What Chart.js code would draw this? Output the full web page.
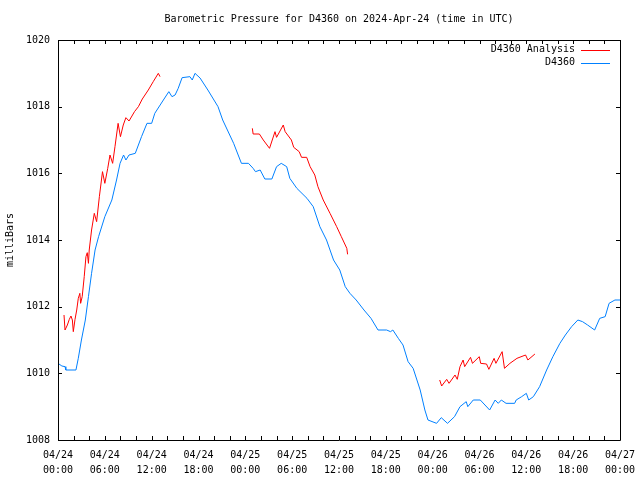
<!DOCTYPE html>
<html>
<head>
<meta charset="utf-8">
<script src="https://cdn.jsdelivr.net/npm/chart.js@4.4.1/dist/chart.umd.min.js"></script>
<style>
  body { margin: 0; background: #fff; }
  canvas { display: block; }
</style>
</head>
<body>
<canvas id="pressureChart" width="640" height="480"></canvas>
<script>
// hours since 2024-04-24 00:00 UTC
var stationHours = [0, 0.5, 0.9, 1.0, 2.3, 2.6, 3.0, 3.5, 3.9, 4.3, 4.75, 5.2, 6.0, 6.9, 7.5, 7.95, 8.4, 8.7, 9.1, 9.9,
  10.7, 11.4, 12.0, 12.4, 13.5, 14.2, 14.6, 15.0, 15.4, 15.9, 16.9, 17.2, 17.55, 18.2, 19.2, 20.5, 21.1, 21.4, 22.5, 23.5,
  24.4, 25.0, 25.3, 25.9, 26.5, 27.4, 28.0, 28.6, 29.3, 29.7, 30.6, 31.9, 32.7, 33.55, 34.4, 35.3, 36.1, 36.8, 37.4, 38.2,
  39.2, 40.1, 41.0, 42.1, 42.6, 42.9, 43.6, 44.2, 44.85, 45.5, 46.4, 47.0, 47.4, 48.5, 49.1, 49.9, 50.8, 51.5, 52.3, 52.5,
  53.2, 54.1, 55.3, 56.0, 56.4, 56.8, 57.4, 58.5, 58.7, 59.4, 60.0, 60.3, 60.9, 61.7, 62.6, 63.4, 64.3, 65.0, 65.8, 66.6,
  67.2, 67.85, 68.75, 69.4, 70.1, 70.6, 71.35, 72];
var stationValues = [1010.3, 1010.22, 1010.2, 1010.1, 1010.1, 1010.45, 1011.0, 1011.6, 1012.3, 1013.0, 1013.7, 1014.1, 1014.7, 1015.2, 1015.8, 1016.3, 1016.55, 1016.4, 1016.55, 1016.6,
  1017.1, 1017.5, 1017.5, 1017.8, 1018.2, 1018.45, 1018.3, 1018.35, 1018.55, 1018.87, 1018.9, 1018.8, 1019.0, 1018.86, 1018.5, 1018.0, 1017.6, 1017.45, 1016.9, 1016.3,
  1016.3, 1016.15, 1016.05, 1016.1, 1015.83, 1015.83, 1016.2, 1016.3, 1016.2, 1015.85, 1015.55, 1015.25, 1015.0, 1014.4, 1014.0, 1013.4, 1013.1, 1012.6, 1012.4, 1012.2,
  1011.9, 1011.65, 1011.3, 1011.3, 1011.25, 1011.3, 1011.05, 1010.85, 1010.35, 1010.15, 1009.5, 1008.9, 1008.6, 1008.5, 1008.67, 1008.5, 1008.7, 1009.0, 1009.15, 1009.0,
  1009.2, 1009.2, 1008.9, 1009.2, 1009.1, 1009.2, 1009.1, 1009.1, 1009.2, 1009.3, 1009.4, 1009.2, 1009.3, 1009.6, 1010.1, 1010.5, 1010.9, 1011.15, 1011.4, 1011.6,
  1011.55, 1011.45, 1011.3, 1011.65, 1011.7, 1012.1, 1012.2, 1012.2];

// analysis series, null = gap between runs
var analysisHours = [0.77, 0.9, 1.2, 1.45, 1.66, 1.84, 1.96, 2.18, 2.4, 2.6, 2.8, 2.9, 3.1, 3.36, 3.58, 3.75, 3.9, 4.0, 4.3, 4.65,
  4.95, 5.3, 5.7, 6.0, 6.37, 6.66, 7.0, 7.3, 7.7, 8.0, 8.36, 8.7, 9.1, 9.8, 10.3, 10.8, 11.57, 12.2, 12.85, 13.07,
  19,
  24.9, 25.0, 25.8, 26.3, 27.1, 27.8, 28.0, 28.86, 29.1, 29.9, 30.2, 30.9, 31.2, 31.86, 32.3, 32.9, 33.3, 33.98, 34.85, 35.7,
  36.3, 37.0, 37.1,
  43,
  48.9, 49.15, 49.8, 50.1, 50.86, 51.15, 51.5, 51.9, 52.1, 52.85, 53.1, 53.97, 54.15, 54.9, 55.2, 55.87, 56.1, 56.9, 57.2, 57.9,
  58.8, 59.9, 60.2, 61.1];
var analysisValues = [1011.75, 1011.3, 1011.45, 1011.62, 1011.72, 1011.6, 1011.25, 1011.62, 1011.9, 1012.25, 1012.4, 1012.1, 1012.3, 1012.9, 1013.5, 1013.62, 1013.3, 1013.7, 1014.3, 1014.8,
  1014.55, 1015.3, 1016.05, 1015.7, 1016.15, 1016.55, 1016.3, 1016.8, 1017.5, 1017.1, 1017.45, 1017.67, 1017.57, 1017.85, 1018.0, 1018.23, 1018.5, 1018.75, 1019.0, 1018.9,
  null,
  1017.35, 1017.18, 1017.18, 1017.0, 1016.75, 1017.25, 1017.08, 1017.45, 1017.25, 1017.0, 1016.78, 1016.65, 1016.48, 1016.48, 1016.2, 1015.95, 1015.6, 1015.2, 1014.8, 1014.4,
  1014.1, 1013.75, 1013.57,
  null,
  1009.8, 1009.62, 1009.82, 1009.7, 1009.95, 1009.82, 1010.2, 1010.4, 1010.2, 1010.48, 1010.3, 1010.5, 1010.3, 1010.28, 1010.12, 1010.45, 1010.3, 1010.65, 1010.15, 1010.3,
  1010.45, 1010.55, 1010.4, 1010.58];

var seriesNames = ['D4360 Analysis', 'D4360'];
var seriesColors = ['#ff0000', '#0080ff'];
var chartTitle = 'Barometric Pressure for D4360 on 2024-Apr-24 (time in UTC)';

function toPoints(hours, vals) {
  return hours.map(function(h, i) { return { x: h, y: vals[i] }; });
}

function hourLabel(h) {
  var day = 24 + Math.floor(h / 24);
  var hh = h % 24;
  return ['04/' + day, (hh < 10 ? '0' : '') + hh + ':00'];
}

Chart.defaults.font.family = "'DejaVu Sans Mono', monospace";
Chart.defaults.font.size = 10;
Chart.defaults.color = '#000';

// gnuplot style frame, inward ticks on all four sides, title and legend
var framePlugin = {
  id: 'frame',
  afterDatasetsDraw: function(chart) {
    var ctx = chart.ctx, a = chart.chartArea;
    var xs = chart.scales.x, ys = chart.scales.y;
    ctx.save();
    ctx.strokeStyle = '#000';
    ctx.lineWidth = 1;
    ctx.beginPath();
    ctx.rect(Math.round(a.left) + 0.5, Math.round(a.top) + 0.5, Math.round(a.right - a.left), Math.round(a.bottom - a.top));
    xs.ticks.forEach(function(t) {
      var px = Math.round(xs.getPixelForValue(t.value)) + 0.5;
      ctx.moveTo(px, a.bottom); ctx.lineTo(px, a.bottom - 4);
      ctx.moveTo(px, a.top); ctx.lineTo(px, a.top + 4);
    });
    ys.ticks.forEach(function(t) {
      var py = Math.round(ys.getPixelForValue(t.value)) + 0.5;
      ctx.moveTo(a.left, py); ctx.lineTo(a.left + 4, py);
      ctx.moveTo(a.right, py); ctx.lineTo(a.right - 4, py);
    });
    ctx.stroke();

    ctx.font = "10px 'DejaVu Sans Mono', monospace";
    ctx.fillStyle = '#000';
    ctx.textBaseline = 'middle';
    ctx.textAlign = 'center';
    ctx.fillText(chartTitle, (a.left + a.right) / 2, 19);

    // legend: label text then line sample, top right inside the frame
    ctx.textAlign = 'right';
    chart.data.datasets.forEach(function(ds, i) {
      var y = a.top + 9.5 + i * 13;
      ctx.fillStyle = '#000';
      ctx.fillText(ds.label, a.right - 45, y);
      ctx.strokeStyle = ds.borderColor;
      ctx.beginPath();
      ctx.moveTo(a.right - 39, Math.round(y) + 0.5);
      ctx.lineTo(a.right - 10, Math.round(y) + 0.5);
      ctx.stroke();
    });
    ctx.restore();
  }
};

new Chart(document.getElementById('pressureChart'), {
  type: 'line',
  data: {
    datasets: [
      { label: seriesNames[0], data: toPoints(analysisHours, analysisValues), borderColor: seriesColors[0], borderWidth: 1, pointRadius: 0, tension: 0, spanGaps: false },
      { label: seriesNames[1], data: toPoints(stationHours, stationValues), borderColor: seriesColors[1], borderWidth: 1, pointRadius: 0, tension: 0 }
    ]
  },
  options: {
    responsive: false,
    animation: false,
    layout: { padding: { left: 0, right: 20, top: 40, bottom: 0 } },
    plugins: {
      legend: { display: false },
      tooltip: { enabled: false },
      title: { display: false }
    },
    scales: {
      x: {
        type: 'linear',
        min: 0, max: 72,
        grid: { display: false, drawTicks: false },
        border: { display: false },
        ticks: {
          stepSize: 2,
          autoSkip: false,
          maxRotation: 0,
          padding: 8,
          font: { size: 10, lineHeight: 1.5 },
          callback: function(v) { return v % 6 === 0 ? hourLabel(v) : ''; }
        },
        afterFit: function(s) { s.height = 40; s.paddingLeft = 0; s.paddingRight = 0; }
      },
      y: {
        min: 1008, max: 1020,
        grid: { display: false, drawTicks: false },
        border: { display: false },
        ticks: { stepSize: 2, padding: 8, callback: function(v) { return String(v); } },
        title: { display: true, text: 'milliBars', padding: { top: 4, bottom: 0 }, font: { size: 10 } },
        afterFit: function(s) { s.width = 58; s.paddingTop = 0; s.paddingBottom = 0; }
      }
    }
  },
  plugins: [framePlugin]
});
</script>
</body>
</html>
